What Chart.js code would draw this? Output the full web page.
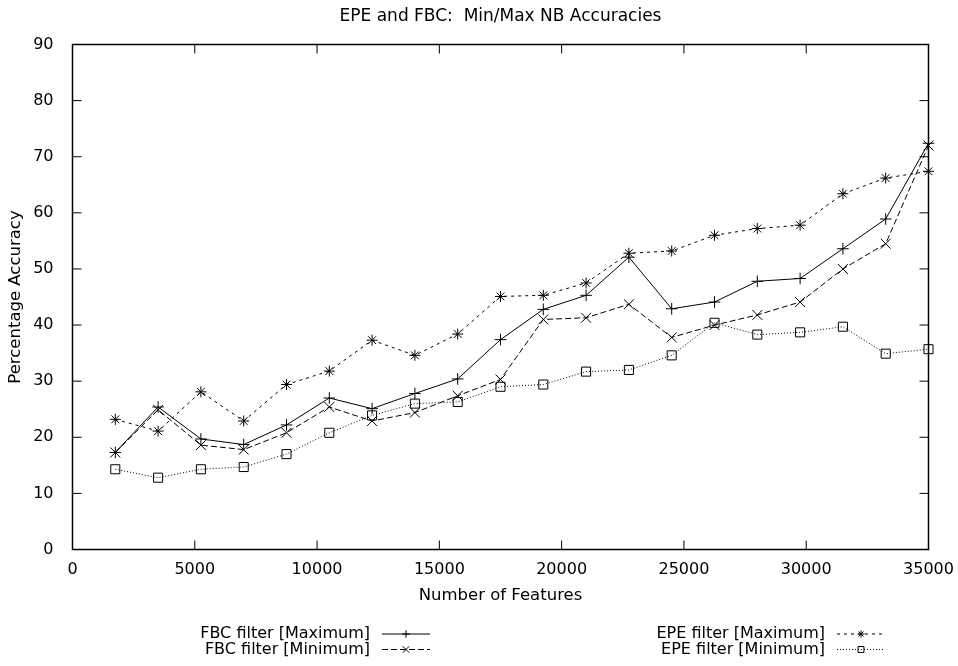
<!DOCTYPE html>
<html>
<head>
<meta charset="utf-8">
<title>EPE and FBC: Min/Max NB Accuracies</title>
<script src="https://cdn.jsdelivr.net/npm/chart.js@4.4.1/dist/chart.umd.min.js"></script>
<style>
  html, body { margin: 0; padding: 0; background: #fff; }
  #wrap { width: 958px; height: 666px; }
</style>
</head>
<body>
<div id="wrap"><canvas id="accChart" width="958" height="666"></canvas></div>
<script>
// number of features used for each run
const features = [1750, 3500, 5250, 7000, 8750, 10500, 12250, 14000, 15750, 17500,
                  19250, 21000, 22750, 24500, 26250, 28000, 29750, 31500, 33250, 35000]

// NB accuracies (%)
const fbcMax = [17.3, 25.4, 19.7, 18.7, 22.2, 27.0, 25.1, 27.8, 30.4, 37.4,
                42.8, 45.3, 52.1, 42.9, 44.1, 47.8, 48.3, 53.6, 58.9, 72.4]
const fbcMin = [17.3, 24.9, 18.6, 17.8, 20.8, 25.4, 22.9, 24.4, 27.4, 30.3,
                41.0, 41.3, 43.7, 37.8, 40.0, 41.8, 44.1, 50.0, 54.5, 72.0]
const epeMax = [23.2, 21.1, 28.1, 22.9, 29.4, 31.8, 37.3, 34.6, 38.4, 45.1,
                45.3, 47.5, 52.8, 53.2, 56.0, 57.2, 57.8, 63.4, 66.2, 67.4]
const epeMin = [14.3, 12.8, 14.3, 14.7, 17.0, 20.8, 23.9, 26.0, 26.3, 29.0,
                29.4, 31.7, 32.0, 34.6, 40.4, 38.3, 38.7, 39.7, 34.9, 35.7]

const seriesLabels = ["FBC filter [Maximum]", "FBC filter [Minimum]",
                      "EPE filter [Maximum]", "EPE filter [Minimum]"]

const FONT = "'DejaVu Sans', 'Liberation Sans', sans-serif"

function toPoints(values) {
  return features.map((f, i) => ({ x: f, y: values[i] }))
}

function series(label, values, dash, style, radius) {
  return {
    label: label,
    data: toPoints(values),
    borderColor: "#000",
    borderWidth: 1,
    borderDash: dash,
    pointStyle: style,
    pointRadius: radius,
    pointBorderColor: "#000",
    pointBackgroundColor: "rgba(0,0,0,0)",
    pointBorderWidth: 1,
    tension: 0,
    fill: false,
    clip: false
  }
}

// center the title over the plot box rather than the whole canvas
const titleOverPlot = {
  id: "titleOverPlot",
  afterLayout(chart) {
    if (chart.titleBlock) {
      chart.titleBlock.left = chart.chartArea.left
      chart.titleBlock.right = chart.chartArea.right
    }
  }
}

// gnuplot style box: frame plus inward ticks on every side
const frameTicks = {
  id: "frameTicks",
  beforeDatasetsDraw(chart) {
    const { ctx, chartArea: a, scales: { x, y } } = chart
    const len = 9
    ctx.save()
    ctx.strokeStyle = "#000"
    ctx.lineWidth = 1.5
    ctx.strokeRect(a.left, a.top, a.right - a.left, a.bottom - a.top)
    ctx.lineWidth = 1
    ctx.beginPath()
    x.ticks.forEach(t => {
      const px = x.getPixelForValue(t.value)
      ctx.moveTo(px, a.bottom); ctx.lineTo(px, a.bottom - len)
      ctx.moveTo(px, a.top); ctx.lineTo(px, a.top + len)
    })
    y.ticks.forEach(t => {
      const py = y.getPixelForValue(t.value)
      ctx.moveTo(a.left, py); ctx.lineTo(a.left + len, py)
      ctx.moveTo(a.right, py); ctx.lineTo(a.right - len, py)
    })
    ctx.stroke()
    ctx.restore()
  }
}

// key below the plot: two columns, text right aligned, sample on the right
const keyBelow = {
  id: "keyBelow",
  afterDraw(chart) {
    const { ctx } = chart
    const slots = [
      { right: 370, y: 634 }, { right: 370, y: 649.5 },
      { right: 825, y: 634 }, { right: 825, y: 649.5 }
    ]
    ctx.save()
    ctx.font = "16px " + FONT
    ctx.textAlign = "right"
    ctx.textBaseline = "middle"
    chart.data.datasets.forEach((ds, i) => {
      const s = slots[i]
      ctx.fillStyle = "#000"
      ctx.fillText(ds.label, s.right, s.y)
      const x0 = s.right + 12, x1 = s.right + 60
      ctx.strokeStyle = "#000"
      ctx.lineWidth = 1
      ctx.setLineDash(ds.borderDash || [])
      ctx.beginPath()
      ctx.moveTo(x0, s.y); ctx.lineTo(x1, s.y)
      ctx.stroke()
      ctx.setLineDash([])
      ctx.fillStyle = "rgba(0,0,0,0)"
      Chart.helpers.drawPoint(ctx, {
        pointStyle: ds.pointStyle,
        radius: ds.pointRadius * 0.65,
        rotation: 0,
        borderWidth: 1
      }, (x0 + x1) / 2, s.y)
    })
    ctx.restore()
  }
}

Chart.defaults.font.family = FONT
Chart.defaults.font.size = 16
Chart.defaults.color = "#000"

new Chart(document.getElementById("accChart"), {
  type: "line",
  data: {
    datasets: [
      series(seriesLabels[0], fbcMax, [], "cross", 5.8),
      series(seriesLabels[1], fbcMin, [6, 3], "crossRot", 7),
      series(seriesLabels[2], epeMax, [3, 4], "star", 5.5),
      series(seriesLabels[3], epeMin, [1, 2], "rect", 6.4)
    ]
  },
  options: {
    responsive: false,
    animation: false,
    devicePixelRatio: 1,
    layout: { padding: { top: 0, right: 29.5, bottom: 56.5, left: 0 } },
    plugins: {
      legend: { display: false },
      tooltip: { enabled: false },
      title: {
        display: true,
        text: "EPE and FBC:  Min/Max NB Accuracies",
        color: "#000",
        font: { size: 17, weight: "normal" },
        padding: { top: 6.5, bottom: 17.6 }
      }
    },
    scales: {
      x: {
        type: "linear",
        min: 0,
        max: 35000,
        grid: { display: false },
        border: { display: false },
        ticks: {
          stepSize: 5000,
          padding: 3,
          maxRotation: 0,
          callback: v => String(v)
        },
        title: {
          display: true,
          text: "Number of Features",
          font: { size: 16.5 },
          padding: { top: 0, bottom: 4 }
        },
        afterFit: s => { s.height = 60 }
      },
      y: {
        min: 0,
        max: 90,
        grid: { display: false },
        border: { display: false },
        ticks: { stepSize: 10, padding: 11 },
        title: {
          display: true,
          text: "Percentage Accuracy",
          font: { size: 16.5 },
          padding: { top: 6, bottom: 0 }
        },
        afterFit: s => { s.width = 72.5 }
      }
    }
  },
  plugins: [titleOverPlot, frameTicks, keyBelow]
})
</script>
</body>
</html>
